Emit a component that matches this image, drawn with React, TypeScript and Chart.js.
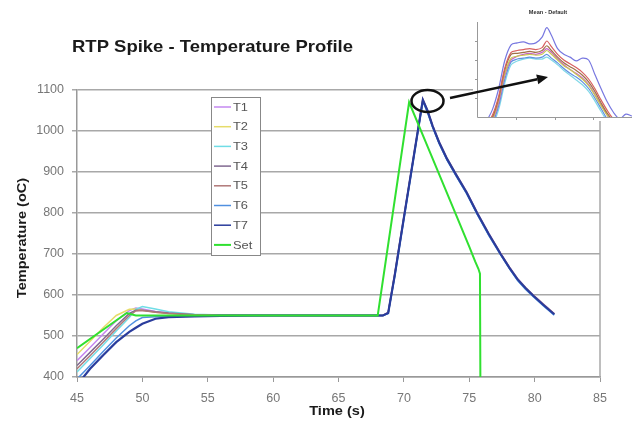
import React, { useEffect, useRef } from "react";
import { Chart, registerables } from "chart.js";
Chart.register(...registerables);

// ---------------- Main chart data ----------------
const SERIES_NAMES = ["T1", "T2", "T3", "T4", "T5", "T6", "T7", "Set"];
const SERIES_COLORS = ["#c488f0", "#e6dc6a", "#70dde6", "#806890", "#b07878", "#5090e0", "#2a3c9c", "#30e030"];

const T_TIME = [45, 46, 47, 48, 49, 49.5, 50, 51, 52, 54, 56, 60, 64, 68.4, 68.8, 69.3, 70, 70.8, 71.45, 71.8, 72.2, 72.7, 73.3, 74.0, 74.8, 75.6, 76.5, 77.4, 78.1, 78.7, 79.3, 79.9, 80.7, 81.5];
const T1 = [440, 472, 505, 537, 562, 568, 566, 560, 556, 552, 551, 550, 550, 550, 558, 652, 792, 950, 1078, 1052, 1014, 974, 934, 895, 852, 802, 750, 702, 667, 640, 619, 600, 577, 555];
const T2 = [455, 487, 520, 550, 565, 566, 563, 558, 555, 552, 551, 550, 550, 550, 557, 650, 790, 948, 1077, 1051, 1013, 973, 933, 894, 851, 801, 749, 701, 666, 639, 618, 599, 576, 554];
const T3 = [412, 445, 478, 512, 545, 565, 572, 566, 559, 553, 551, 550, 550, 550, 555, 646, 786, 945, 1073, 1047, 1010, 970, 930, 891, 848, 798, 746, 699, 664, 636, 615, 597, 574, 552];
const T4 = [428, 460, 492, 525, 555, 563, 563, 559, 556, 552, 551, 550, 550, 550, 556, 649, 789, 947, 1075, 1049, 1011, 971, 931, 892, 849, 799, 747, 700, 665, 637, 616, 598, 575, 553];
const T5 = [420, 452, 485, 518, 550, 561, 562, 558, 555, 552, 550, 550, 550, 550, 557, 650, 790, 948, 1076, 1050, 1012, 972, 932, 893, 850, 800, 748, 701, 666, 638, 617, 599, 576, 554];
const T6 = [395, 428, 462, 495, 525, 537, 545, 547, 548, 549, 550, 550, 550, 550, 555, 645, 785, 944, 1072, 1046, 1009, 969, 929, 890, 847, 797, 745, 698, 663, 635, 614, 596, 573, 551];
const T7 = [380, 420, 453, 485, 510, 520, 530, 542, 546, 548, 549, 550, 550, 550, 556, 648, 788, 947, 1076, 1050, 1012, 972, 932, 893, 850, 800, 748, 700, 665, 638, 617, 598, 575, 553];

const SET_TIME = [45, 48.8, 49.5, 68.0, 70.4, 72.0, 74.0, 75.0, 75.45, 75.7, 75.82, 75.85];
const SET_TEMP = [470, 556, 550, 550, 1070, 948, 795, 718, 682, 664, 652, 400];

const X_MIN = 45, X_MAX = 85, X_STEP = 5;
const Y_MIN = 400, Y_MAX = 1100, Y_STEP = 100;

const TITLE = "RTP Spike - Temperature Profile";
const X_TITLE = "Time (s)";
const Y_TITLE = "Temperature (oC)";

// ---------------- Inset (zoom) chart data ----------------
const INSET_TITLE = "Mean - Default";
const INSET_X = [6, 10, 14, 18, 22, 26, 30, 34, 38, 42, 45, 48, 52, 56, 60, 64, 68, 72, 76, 80, 84, 88, 92, 96, 100];
const INSET_PURPLE = [-5, 8, 30, 60, 76, 78, 79, 77, 78, 84, 94, 86, 72, 66, 63, 59, 62, 60, 45, 30, 16, 5, -2, 3, 1];
const INSET_RED = [-8, 2, 22, 52, 68, 70, 71, 72, 71, 73, 80, 74, 66, 60, 56, 52, 47, 40, 30, 18, 7, -2, -6, -8, -8];
const INSET_BROWN = [-8, 0, 20, 50, 66, 67, 68, 69, 68, 70, 75, 70, 63, 57, 53, 49, 44, 37, 27, 15, 4, -4, -8, -8, -8];
const INSET_YELLOW = [-8, -2, 18, 46, 62, 64, 65, 66, 65, 66, 70, 66, 60, 54, 50, 45, 40, 33, 23, 12, 2, -6, -8, -8, -8];
const INSET_MAGENTA = [-10, -3, 15, 44, 60, 64, 66, 67, 66, 68, 72, 68, 61, 55, 50, 46, 41, 34, 24, 13, 2, -6, -8, -8, -8];
const INSET_BLUE = [-10, -6, 12, 40, 58, 61, 62, 63, 62, 63, 66, 62, 57, 51, 46, 42, 37, 30, 20, 9, -2, -8, -8, -8, -8];
const INSET_CYAN = [-10, -8, 8, 36, 55, 59, 61, 62, 61, 61, 63, 60, 55, 49, 44, 39, 34, 27, 17, 6, -4, -8, -8, -8, -8];
const INSET_SERIES = [INSET_PURPLE, INSET_RED, INSET_BROWN, INSET_YELLOW, INSET_MAGENTA, INSET_BLUE, INSET_CYAN];
const INSET_COLORS = ["#7878e0", "#d86060", "#a07048", "#c8c850", "#c860c8", "#6090e0", "#80d8e8"];

// annotation geometry (page pixels)
const INSET_LEFT = 473, INSET_TOP = 0, INSET_W = 159, INSET_H = 121;
const ARROW_FROM = [450, 98];
const ARROW_TO = [548, 77];

const FONT = "'Liberation Sans', Arial, Helvetica, sans-serif";
const STRETCH = 1.12;

function drawText(ctx: CanvasRenderingContext2D, text: string, x: number, y: number, font: string, color: string, align: CanvasTextAlign, baseline: CanvasTextBaseline) {
  ctx.save();
  ctx.font = font;
  ctx.fillStyle = color;
  ctx.textAlign = align;
  ctx.textBaseline = baseline;
  ctx.translate(x, y);
  ctx.scale(STRETCH, 1);
  ctx.fillText(text, 0, 0);
  ctx.restore();
}

function drawArrow(ctx: CanvasRenderingContext2D, dx: number, dy: number) {
  const [x1, y1] = ARROW_FROM;
  const [x2, y2] = ARROW_TO;
  const ang = Math.atan2(y2 - y1, x2 - x1);
  const hl = 11, hw = 5;
  const bx = x2 - hl * Math.cos(ang), by = y2 - hl * Math.sin(ang);
  ctx.save();
  ctx.translate(dx, dy);
  ctx.strokeStyle = "#111";
  ctx.fillStyle = "#111";
  ctx.lineWidth = 2.5;
  ctx.beginPath();
  ctx.moveTo(x1, y1);
  ctx.lineTo(bx, by);
  ctx.stroke();
  ctx.beginPath();
  ctx.moveTo(x2, y2);
  ctx.lineTo(bx + hw * Math.sin(ang), by - hw * Math.cos(ang));
  ctx.lineTo(bx - hw * Math.sin(ang), by + hw * Math.cos(ang));
  ctx.closePath();
  ctx.fill();
  ctx.restore();
}

const mainDecor = {
  id: "mainDecor",
  afterDraw(chart: any) {
    const ctx: CanvasRenderingContext2D = chart.ctx;
    const ca = chart.chartArea;
    // right border of the plot area
    ctx.save();
    ctx.strokeStyle = "#a8a8a8";
    ctx.lineWidth = 1.5;
    ctx.beginPath();
    ctx.moveTo(ca.right, ca.top);
    ctx.lineTo(ca.right, ca.bottom);
    ctx.stroke();
    ctx.restore();

    drawText(ctx, TITLE, 72, 52, `bold 16.5px ${FONT}`, "#1a1a1a", "left", "alphabetic");
    drawText(ctx, X_TITLE, 337, 411, `bold 13px ${FONT}`, "#1a1a1a", "center", "middle");
    ctx.save();
    ctx.translate(22, 238);
    ctx.rotate(-Math.PI / 2);
    ctx.font = `bold 13px ${FONT}`;
    ctx.fillStyle = "#1a1a1a";
    ctx.textAlign = "center";
    ctx.textBaseline = "middle";
    ctx.scale(STRETCH, 1);
    ctx.fillText(Y_TITLE, 0, 0);
    ctx.restore();

    // legend box
    ctx.save();
    ctx.fillStyle = "#ffffff";
    ctx.strokeStyle = "#888";
    ctx.lineWidth = 1;
    ctx.fillRect(211, 97, 49, 158);
    ctx.strokeRect(211.5, 97.5, 49, 158);
    SERIES_NAMES.forEach((name, i) => {
      const y = 107 + i * 19.7;
      ctx.strokeStyle = SERIES_COLORS[i];
      ctx.lineWidth = name === "Set" ? 2 : 1.5;
      ctx.beginPath();
      ctx.moveTo(214, y);
      ctx.lineTo(231, y);
      ctx.stroke();
      drawText(ctx, name, 233, y + 0.5, `11.5px ${FONT}`, "#555", "left", "middle");
    });
    ctx.restore();

    // ellipse around the peak
    ctx.save();
    ctx.strokeStyle = "#111";
    ctx.lineWidth = 2.5;
    ctx.beginPath();
    ctx.ellipse(427.5, 101, 16, 11, 0, 0, Math.PI * 2);
    ctx.stroke();
    ctx.restore();

    drawArrow(ctx, 0, 0);
  },
};

const insetDecor = {
  id: "insetDecor",
  beforeDraw(chart: any) {
    const ctx: CanvasRenderingContext2D = chart.ctx;
    ctx.save();
    ctx.fillStyle = "#fff";
    ctx.fillRect(0, 0, chart.width, chart.height);
    ctx.restore();
  },
  afterDraw(chart: any) {
    const ctx: CanvasRenderingContext2D = chart.ctx;
    const ca = chart.chartArea;
    const xs = chart.scales.x, ys = chart.scales.y;
    ctx.save();
    ctx.strokeStyle = "#999";
    ctx.lineWidth = 1;
    ctx.beginPath();
    ctx.moveTo(ca.left + 0.5, ca.top);
    ctx.lineTo(ca.left + 0.5, ca.bottom + 0.5);
    ctx.lineTo(ca.right, ca.bottom + 0.5);
    ctx.stroke();
    [25, 50, 75].forEach((v) => {
      const px = Math.round(xs.getPixelForValue(v)) + 0.5;
      ctx.beginPath();
      ctx.moveTo(px, ca.bottom);
      ctx.lineTo(px, ca.bottom + 3);
      ctx.stroke();
    });
    [20, 40, 60, 80].forEach((v) => {
      const py = Math.round(ys.getPixelForValue(v)) + 0.5;
      ctx.beginPath();
      ctx.moveTo(ca.left - 2, py);
      ctx.lineTo(ca.left + 1, py);
      ctx.stroke();
    });
    ctx.restore();
    drawText(ctx, INSET_TITLE, 75, 13, `bold 5px ${FONT}`, "#333", "center", "middle");
    drawArrow(ctx, -INSET_LEFT, -INSET_TOP);
  },
};

function zip(xs: number[], ys: number[]) {
  return xs.map((x, i) => ({ x, y: ys[i] }));
}

export default function App() {
  const mainRef = useRef<HTMLCanvasElement>(null);
  const insetRef = useRef<HTMLCanvasElement>(null);

  useEffect(() => {
    const tSeries = [T1, T2, T3, T4, T5, T6, T7];
    const datasets: any[] = tSeries.map((vals, i) => ({
      label: SERIES_NAMES[i],
      data: zip(T_TIME, vals),
      borderColor: SERIES_COLORS[i],
      backgroundColor: SERIES_COLORS[i],
      borderWidth: i === 6 ? 2.2 : 1.5,
      pointRadius: 0,
      tension: 0,
      order: 7 - i,
    }));
    datasets.push({
      label: "Set",
      data: zip(SET_TIME, SET_TEMP),
      borderColor: SERIES_COLORS[7],
      backgroundColor: SERIES_COLORS[7],
      borderWidth: 2,
      pointRadius: 0,
      tension: 0,
      order: 0,
    });

    const main = new Chart(mainRef.current as HTMLCanvasElement, {
      type: "line",
      data: { datasets },
      options: {
        animation: false,
        responsive: false,
        maintainAspectRatio: false,
        layout: { padding: { top: 90, right: 32, left: 0, bottom: 0 } },
        plugins: { legend: { display: false }, tooltip: { enabled: false }, title: { display: false } },
        scales: {
          x: {
            type: "linear",
            min: X_MIN,
            max: X_MAX,
            ticks: { stepSize: X_STEP, color: "#777", font: { family: FONT, size: 12.5 }, padding: 9, maxRotation: 0, callback: (v: any) => String(v) },
            grid: { drawOnChartArea: false, drawTicks: true, tickLength: 5, color: "#999" },
            border: { color: "#999", width: 1.5 },
            afterFit: (s: any) => { s.height = 50; },
          },
          y: {
            min: Y_MIN,
            max: Y_MAX,
            ticks: { stepSize: Y_STEP, color: "#777", font: { family: FONT, size: 12.5 }, padding: 8, callback: (v: any) => String(v) },
            grid: { color: "#a8a8a8", lineWidth: 1.5, tickLength: 5 },
            border: { color: "#999", width: 1.5 },
            afterFit: (s: any) => { s.width = 77; },
          },
        },
      },
      plugins: [mainDecor],
    });

    const inset = new Chart(insetRef.current as HTMLCanvasElement, {
      type: "line",
      data: {
        datasets: INSET_SERIES.map((vals, i) => ({
          data: zip(INSET_X, vals),
          borderColor: INSET_COLORS[i],
          borderWidth: 1.2,
          pointRadius: 0,
          tension: 0.3,
        })),
      },
      options: {
        animation: false,
        responsive: false,
        maintainAspectRatio: false,
        layout: { padding: { top: 22, left: 4, right: 0, bottom: 4 } },
        plugins: { legend: { display: false }, tooltip: { enabled: false } },
        scales: {
          x: { type: "linear", min: 0, max: 100, display: false },
          y: { min: 0, max: 100, display: false },
        },
      },
      plugins: [insetDecor],
    });

    return () => {
      main.destroy();
      inset.destroy();
    };
  }, []);

  return (
    <div style={{ position: "fixed", left: 0, top: 0, width: 632, height: 427, background: "#fff" }}>
      <canvas ref={mainRef} width={632} height={427} style={{ position: "absolute", left: 0, top: 0, width: 632, height: 427 }} />
      <canvas
        ref={insetRef}
        width={INSET_W}
        height={INSET_H}
        style={{ position: "absolute", left: INSET_LEFT, top: INSET_TOP, width: INSET_W, height: INSET_H }}
      />
    </div>
  );
}
